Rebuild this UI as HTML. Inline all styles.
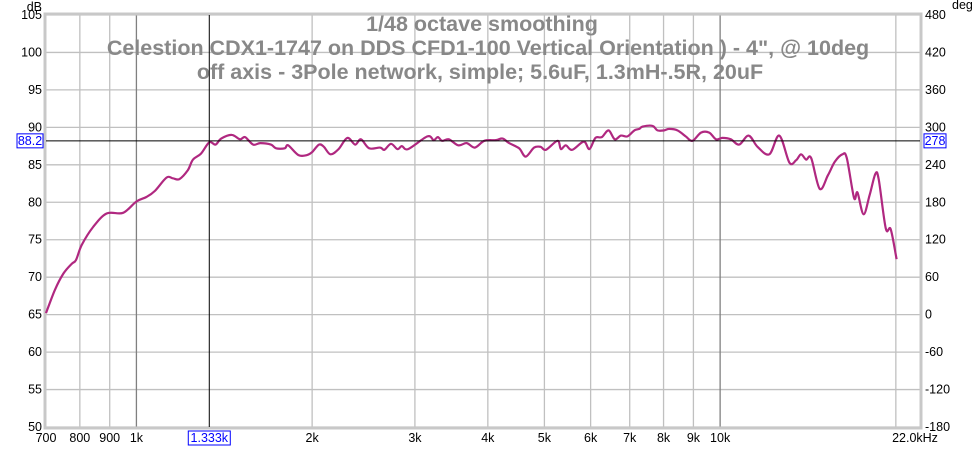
<!DOCTYPE html>
<html><head><meta charset="utf-8"><style>
body{margin:0;background:#fff;}
svg text{font-family:"Liberation Sans",sans-serif;}
</style></head><body>
<svg id="chart" width="978" height="448" xmlns="http://www.w3.org/2000/svg">
<rect width="978" height="448" fill="#fff"/>
<g id="grid"></g>
<g id="axes"></g>
<g fill="#888" font-weight="bold" font-size="21.5" text-anchor="middle">
<text x="482" y="31">1/48 octave smoothing</text>
<text x="488" y="55">Celestion CDX1-1747 on DDS CFD1-100  Vertical Orientation ) - 4", @ 10deg</text>
<text x="480" y="79">off axis - 3Pole network, simple; 5.6uF, 1.3mH-.5R, 20uF</text>
</g>
<g id="series"></g>
<g id="overlay"></g>
</svg>
<script>
const freqs=[700,725,750,775,788,806,843,889,949,1000,1040,1075,1126,1155,1185,1225,1250,1290,1333,1366,1397,1456,1505,1535,1585,1630,1700,1735,1795,1820,1895,1960,2000,2055,2095,2150,2220,2298,2370,2425,2505,2615,2660,2730,2800,2850,2920,3152,3230,3285,3340,3430,3560,3680,3800,3945,4130,4240,4350,4525,4645,4800,4925,5030,5265,5335,5440,5580,5840,5970,6115,6270,6440,6600,6760,6940,7130,7270,7365,7660,7810,8020,8180,8450,8730,8965,9275,9580,9840,10090,10430,10780,11190,11590,12140,12630,13140,13490,13760,14040,14320,14810,15300,15720,16200,16480,16960,17190,17610,18040,18450,18700,19220,19600,20060];
const spl=[65.2,68.3,70.5,71.8,72.3,74.3,76.7,78.5,78.6,80.1,80.7,81.5,83.3,83.2,83.1,84.3,85.7,86.5,88.0,87.7,88.5,89.0,88.4,88.7,87.7,87.9,87.7,87.2,87.2,87.6,86.3,86.3,86.7,87.7,87.4,86.4,87.1,88.6,87.7,88.4,87.2,87.3,87.0,87.8,87.1,87.5,87.1,88.8,88.3,88.7,88.2,88.4,87.6,87.9,87.3,88.2,88.3,88.5,87.9,87.2,86.1,87.3,87.4,87.0,88.2,87.1,87.6,87.0,88.1,87.1,88.6,88.7,89.6,88.4,88.9,88.8,89.6,89.8,90.1,90.2,89.6,89.6,89.8,89.6,88.8,88.2,89.3,89.3,88.4,88.6,88.4,87.7,88.9,87.4,86.4,88.9,85.3,85.6,86.4,85.7,85.9,81.8,83.6,85.4,86.4,85.9,80.6,81.3,78.4,81.0,83.8,83.0,76.5,76.4,72.4];
const yTicks=[50,55,60,65,70,75,80,85,90,95,100,105];
const phaseTicks=[-180,-120,-60,0,60,120,180,240,300,360,420,480];
const xGrid=[800,900,1000,2000,3000,4000,5000,6000,7000,8000,9000,10000,20000];
const xLabels=[[700,"700"],[800,"800"],[900,"900"],[1000,"1k"],[2000,"2k"],[3000,"3k"],[4000,"4k"],[5000,"5k"],[6000,"6k"],[7000,"7k"],[8000,"8k"],[9000,"9k"],[10000,"10k"]];
const cursorF=1333, cursorDb=88.2;

const L=46,R=920,T=15,B=427;
const fMin=700,fMax=22000,dMin=50,dMax=105;
const X=f=>L+(Math.log10(f/fMin)/Math.log10(fMax/fMin))*(R-L);
const Y=d=>B-(d-dMin)/(dMax-dMin)*(B-T);
const NS="http://www.w3.org/2000/svg";
function mk(parent,tag,attrs,txt){const e=document.createElementNS(NS,tag);for(const k in attrs)e.setAttribute(k,attrs[k]);if(txt!==undefined)e.textContent=txt;document.getElementById(parent).appendChild(e);return e;}

yTicks.forEach(d=>{const e=mk('grid','line',{x1:L,x2:R,y1:Y(d),y2:Y(d),stroke:'#c0c0c0','stroke-width':1.3});

});
xGrid.forEach(f=>{const dark=(f===1000||f===10000);const e=mk('grid','line',{x1:X(f),x2:X(f),y1:T,y2:B,stroke:dark?'#808080':'#c0c0c0','stroke-width':1.3});

});
let bd=mk('axes','rect',{x:L-1,y:T-1,width:R-L+2,height:B-T+2,fill:'none',stroke:'#c8c8c8','stroke-width':3});


yTicks.forEach(d=>{const e=mk('axes','text',{x:42,y:Y(d)+4,'font-size':12.5,'text-anchor':'end'},String(d));

});
let u=mk('axes','text',{x:42,y:11,'font-size':12.5,'text-anchor':'end'},'dB');


phaseTicks.forEach((p,i)=>{const e=mk('axes','text',{x:925,y:Y(dMin+i*5)+4,'font-size':12.5},String(p));

});
let u2=mk('axes','text',{x:952,y:9,'font-size':12.5},'deg');


xLabels.forEach(([f,t])=>{const e=mk('axes','text',{x:X(f),y:442,'font-size':12.5,'text-anchor':'middle'},t);

});
let xl=mk('axes','text',{x:X(22000)-5,y:442,'font-size':12.5,'text-anchor':'middle'},'22.0kHz');



// smooth series (Catmull-Rom)
const pts=freqs.map((f,i)=>[X(f),Y(spl[i])]);
let dstr='M'+pts[0][0].toFixed(1)+' '+pts[0][1].toFixed(1);
for(let i=0;i<pts.length-1;i++){
  const p0=pts[Math.max(0,i-1)],p1=pts[i],p2=pts[i+1],p3=pts[Math.min(pts.length-1,i+2)];
  const c1x=p1[0]+(p2[0]-p0[0])/6,c1y=p1[1]+(p2[1]-p0[1])/6;
  const c2x=p2[0]-(p3[0]-p1[0])/6,c2y=p2[1]-(p3[1]-p1[1])/6;
  dstr+=' C'+c1x.toFixed(1)+' '+c1y.toFixed(1)+' '+c2x.toFixed(1)+' '+c2y.toFixed(1)+' '+p2[0].toFixed(1)+' '+p2[1].toFixed(1);
}
let p=mk('series','path',{d:dstr,fill:'none',stroke:'#b02880','stroke-width':2.2,'stroke-linejoin':'round'});



const cx=X(cursorF),cy=Y(cursorDb);
let c1=mk('overlay','line',{x1:L,x2:R,y1:cy,y2:cy,stroke:'#000','stroke-width':1});


let c2=mk('overlay','line',{x1:cx,x2:cx,y1:T,y2:B,stroke:'#000','stroke-width':1});


function box(x,y,w,t,name){const r=mk('overlay','rect',{x:x,y:y,width:w,height:14,fill:'#fff',stroke:'#0000ff','stroke-width':1});


const e=mk('overlay','text',{x:x+w/2,y:y+11,'font-size':12.5,fill:'#0000ff','text-anchor':'middle'},t);

}
box(17,cy-7,26,String(cursorDb),'cursor-db-readout');
box(924,cy-7,22,'278','cursor-phase-readout');
box(cx-21,431,42,(cursorF/1000).toFixed(3)+'k','cursor-freq-readout');
</script>
</body></html>
